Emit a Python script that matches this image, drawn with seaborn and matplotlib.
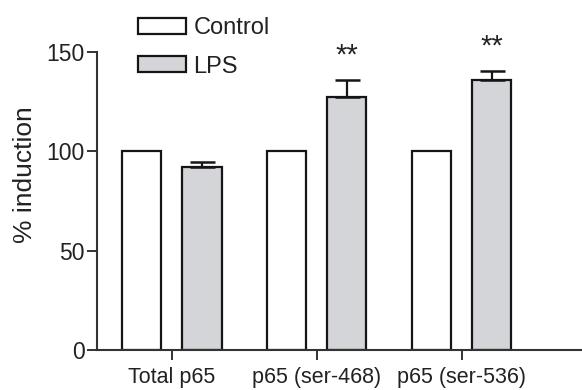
import matplotlib
matplotlib.use("Agg")
import matplotlib.pyplot as plt
import seaborn as sns
import pandas as pd

categories = ["Total p65", "p65 (ser-468)", "p65 (ser-536)"]
groups = ["Control", "LPS"]
control_values = [100, 100, 100]
lps_values = [92, 127, 136]
lps_errors = [2.5, 9, 4.5]
significance = ["", "**", "**"]
y_ticks = [0, 50, 100, 150]

sns.set_theme(style="white")
plt.rcParams["font.family"] = ["Liberation Sans", "DejaVu Sans"]

df = pd.DataFrame({
    "category": categories * 2,
    "group": [groups[0]] * 3 + [groups[1]] * 3,
    "value": control_values + lps_values,
})

fig = plt.figure(figsize=(5.82, 3.9), dpi=100)
ax = fig.add_axes([97 / 582, 40 / 390, 1 - 97 / 582, 1 - 40 / 390])

sns.barplot(data=df, x="category", y="value", hue="group", order=categories,
            hue_order=groups, palette={"Control": "white", "LPS": "#d2d5d9"},
            width=0.83, gap=0.35, edgecolor="#151515", linewidth=1.6,
            errorbar=None, ax=ax)

lps_bars = ax.containers[1]
for bar, err, sig in zip(lps_bars, lps_errors, significance):
    xc = bar.get_x() + bar.get_width() / 2
    h = bar.get_height()
    ax.errorbar([xc], [h], yerr=[[0], [err]], fmt="none", ecolor="#151515",
                elinewidth=1.6, capsize=9, capthick=1.8, zorder=1)
    if sig:
        ax.text(xc, h + err + 8, sig, ha="center", va="baseline",
                fontsize=21, color="#222222")

ax.set_xlim(-0.517, 2.83)
ax.set_ylim(0, 176)
ax.set_yticks(y_ticks)
ax.spines["left"].set_bounds(0, 150)
ax.spines["top"].set_visible(False)
ax.spines["right"].set_visible(False)
for s in ("left", "bottom"):
    ax.spines[s].set_linewidth(1.5)
    ax.spines[s].set_color("#333333")

ax.tick_params(axis="both", which="both", direction="out", length=7, width=1.4,
               color="#333333", left=True, bottom=True)
ax.tick_params(axis="y", labelsize=16.5, labelcolor="#222222", pad=2)
ax.tick_params(axis="x", labelsize=15.5, labelcolor="#222222", pad=5)

ax.set_xlabel("")
ax.set_ylabel("% induction", fontsize=19, color="#222222", labelpad=7)

leg = ax.legend(loc="upper left", bbox_to_anchor=((138 - 97) / 485, 1 - 17 / 350),
                frameon=False, fontsize=17, handlelength=2.05, handleheight=0.68,
                handletextpad=0.3, labelspacing=0.7, borderpad=0, borderaxespad=0)
for h in leg.legend_handles:
    h.set_edgecolor("#151515")
    h.set_linewidth(1.6)
for t in leg.get_texts():
    t.set_color("#222222")

fig.savefig("out.png", dpi=100)
